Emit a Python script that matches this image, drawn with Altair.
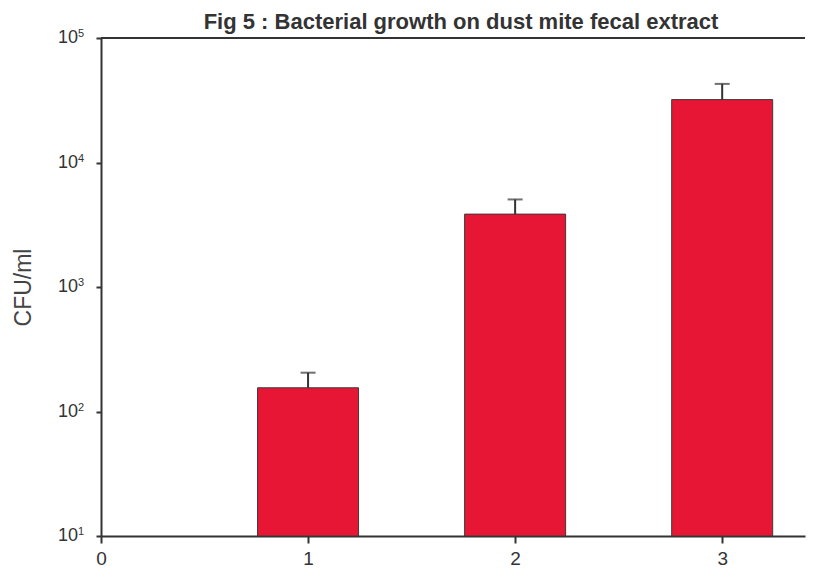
import altair as alt
import pandas as pd

# ---- data ----
groups = [1, 2, 3]
cfu_mean = [155, 3850, 32000]
cfu_upper = [205, 5050, 42800]
x_ticks = [0, 1, 2, 3]
y_ticks = [10, 100, 1000, 10000, 100000]
y_tick_base = ["10", "10", "10", "10", "10"]
y_tick_exp = ["1", "2", "3", "4", "5"]
title_text = "Fig 5 : Bacterial growth on dust mite fecal extract"
y_title = "CFU/ml"

df = pd.DataFrame({"group": groups, "mean": cfu_mean, "upper": cfu_upper})
ticks_df = pd.DataFrame({"v": y_ticks, "base": y_tick_base, "exp": y_tick_exp})
title_df = pd.DataFrame({"t": [title_text]})
frame_df = pd.DataFrame({"top": [y_ticks[-1]]})

FONT = "Liberation Sans"
INK = "#333333"
RED = "#e61634"

x_scale = alt.Scale(domain=[0, 3.4], nice=False, zero=False, padding=0)
y_scale = alt.Scale(type="log", domain=[y_ticks[0], y_ticks[-1]], nice=False)

x_axis = alt.Axis(
    values=x_ticks, format="d", title=None, tickSize=7, labelPadding=6,
    labelFontSize=19, labelColor=INK, tickColor=INK, domainColor=INK,
    domainWidth=2, tickWidth=2, labelFont=FONT, grid=False,
    labelFlush=False, labelOverlap=False,
)
y_axis = alt.Axis(
    values=y_ticks, labels=False, title=y_title, tickSize=5,
    tickColor=INK, domainColor=INK, domainWidth=2, tickWidth=2,
    titleFont=FONT, titleFontSize=23, titleFontWeight="normal",
    titleColor="#444444", titleX=-66, titleY=249, titleAngle=-90,
    titleAlign="center", titleBaseline="bottom", grid=False,
)

base = alt.Chart(df)

bars = base.mark_bar(size=101, color=RED, stroke="#3a3a3a", strokeWidth=1).encode(
    x=alt.X("group:Q", scale=x_scale, axis=x_axis),
    y=alt.Y("mean:Q", scale=y_scale, axis=y_axis, title=y_title),
    y2=alt.datum(y_ticks[0]),
)

err = base.mark_rule(color=INK, strokeWidth=2).encode(
    x=alt.X("group:Q", scale=x_scale, title=None),
    y=alt.Y("mean:Q", scale=y_scale, title=y_title),
    y2="upper:Q",
)

cap = base.mark_tick(orient="horizontal", size=15, thickness=2, color=INK).encode(
    x=alt.X("group:Q", scale=x_scale, title=None),
    y=alt.Y("upper:Q", scale=y_scale, title=y_title),
)

top_line = alt.Chart(frame_df).mark_rule(color=INK, strokeWidth=2).encode(
    y=alt.Y("top:Q", scale=y_scale, title=y_title),
)

tick_base = alt.Chart(ticks_df).mark_text(
    font=FONT, fontSize=18, color=INK, align="right", baseline="middle",
).encode(
    text="base:N",
    x=alt.value(-23),
    y=alt.Y("v:Q", scale=y_scale, title=y_title),
)

tick_exp = alt.Chart(ticks_df).mark_text(
    font=FONT, fontSize=11, color=INK, align="left", baseline="alphabetic", dy=-1,
).encode(
    text="exp:N",
    x=alt.value(-23),
    y=alt.Y("v:Q", scale=y_scale, title=y_title),
)

title = alt.Chart(title_df).mark_text(
    font=FONT, fontSize=22, fontWeight="bold", color=INK,
    align="center", baseline="alphabetic",
).encode(
    text="t:N",
    x=alt.value(360),
    y=alt.value(-9),
)

chart = (
    alt.layer(bars, err, cap, top_line, tick_base, tick_exp, title)
    .properties(
        width=704,
        height=498,
        autosize=alt.AutoSizeParams(type="none"),
        padding={"left": 93, "top": 30, "right": 1, "bottom": 36},
        background="white",
    )
    .configure_view(stroke=None)
)

chart.save("out.html", embed_options={"renderer": "svg", "actions": False})
